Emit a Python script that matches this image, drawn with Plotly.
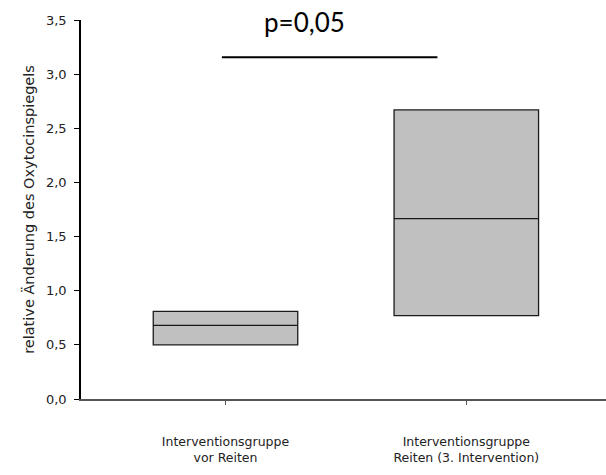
import plotly.graph_objects as go

categories = ["Interventionsgruppe<br>vor Reiten", "Interventionsgruppe<br>Reiten (3. Intervention)"]
positions = [1, 2]
q1 = [0.50, 0.77]
median = [0.68, 1.665]
q3 = [0.81, 2.67]
sig_x = [0.985, 1.88]
sig_y = [3.155, 3.155]
sig_text = "p=0,05"
yticks = [0, 0.5, 1.0, 1.5, 2.0, 2.5, 3.0, 3.5]
yticklabels = [f"{v:.1f}".replace(".", ",") for v in yticks]

fig = go.Figure()
for i in range(len(positions)):
    fig.add_trace(go.Box(
        x=[positions[i]], q1=[q1[i]], median=[median[i]], q3=[q3[i]],
        lowerfence=[q1[i]], upperfence=[q3[i]],
        width=0.6, whiskerwidth=0,
        fillcolor="#c0c0c0", line=dict(color="#1a1a1a", width=1.3),
        boxpoints=False, showlegend=False, hoverinfo="skip",
    ))

fig.add_trace(go.Scatter(x=sig_x, y=sig_y, mode="lines",
                         line=dict(color="black", width=2), showlegend=False,
                         hoverinfo="skip", cliponaxis=False))

fig.add_annotation(x=1.33, y=3.48, text=sig_text, showarrow=False,
                   xanchor="center", yanchor="middle",
                   font=dict(family="Lato, Open Sans, sans-serif", size=26, color="black"))

fig.update_layout(
    width=606, height=475,
    margin=dict(l=81, r=0, t=20, b=76),
    plot_bgcolor="white", paper_bgcolor="white",
    font=dict(family="DejaVu Sans, sans-serif", size=13, color="#222"),
)
fig.update_xaxes(
    range=[0.4, 2.58], tickvals=positions, ticktext=categories,
    showline=True, linecolor="#555", linewidth=1.5,
    ticks="outside", ticklen=4, tickcolor="#555", tickwidth=1,
    ticklabelstandoff=26, showgrid=False, zeroline=False,
    tickfont=dict(family="DejaVu Sans, sans-serif", size=12.5, color="#222"),
)
fig.update_yaxes(
    range=[0, 3.5], tickvals=yticks, ticktext=yticklabels,
    showline=True, linecolor="black", linewidth=1.5,
    ticks="outside", ticklen=5, tickcolor="black", tickwidth=1,
    ticklabelstandoff=5, showgrid=False, zeroline=False,
    title=dict(text="relative Änderung des Oxytocinspiegels",
               font=dict(family="DejaVu Sans, sans-serif", size=14.5, color="#222"), standoff=8),
    tickfont=dict(family="DejaVu Sans, sans-serif", size=13, color="#222"),
)

fig.write_html("out.html")
